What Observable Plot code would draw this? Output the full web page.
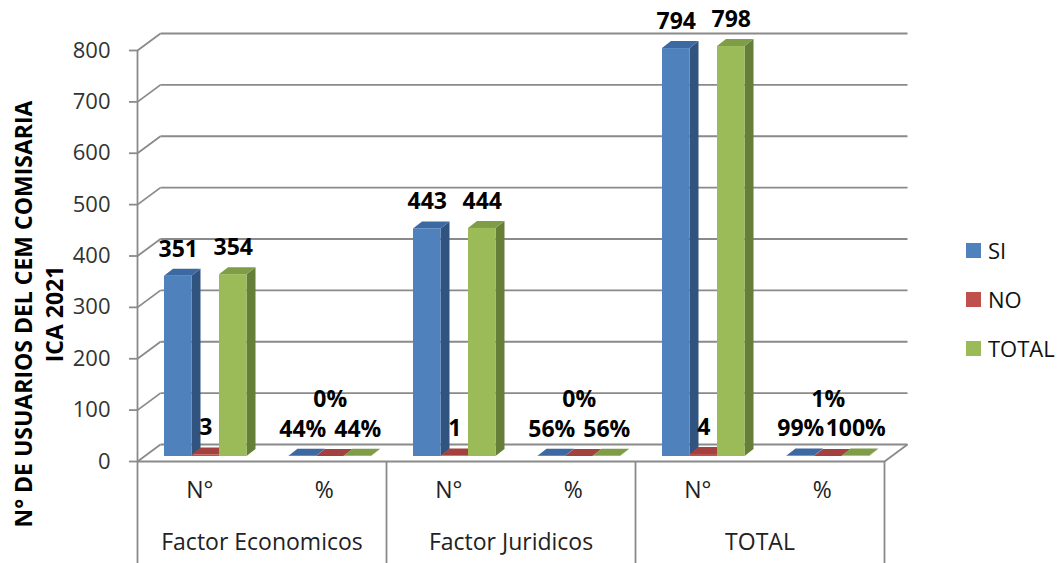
<!DOCTYPE html>
<html>
<head>
<meta charset="utf-8">
<script src="https://cdn.jsdelivr.net/npm/d3@7"></script>
<script src="https://cdn.jsdelivr.net/npm/@observablehq/plot@0.6"></script>
<style>
  html, body { margin: 0; padding: 0; background: #fff; }
  #wrap { position: relative; width: 1063px; height: 563px; font-family: "Open Sans", sans-serif; }
  #ytitle { position: absolute; left: 38.75px; top: 313.5px; width: 520px; height: 62px;
    transform: translate(-50%, -50%) rotate(-90deg); text-align: center; line-height: 31px;
    font-weight: bold; font-size: 23px; color: #000; white-space: nowrap; }
  #legend { position: absolute; left: 966px; top: 226px; font-size: 22px; color: #111; }
  #legend .item { display: flex; align-items: center; height: 49px; line-height: 29px; }
  #legend .sw { width: 15px; height: 15px; margin-right: 7px; }
</style>
</head>
<body>
<div id="wrap">
  <div id="chart"></div>
  <div id="ytitle"></div>
  <div id="legend"></div>
</div>
<script>
// ---- data ----
const groups = ["Factor Economicos", "Factor Juridicos", "TOTAL"];
const measures = ["N°", "%"];
const seriesNames = ["SI", "NO", "TOTAL"];
// values per category slot: [Econ N°, Econ %, Jur N°, Jur %, Total N°, Total %]
const siValues    = [351, 0.44, 443, 0.56, 794, 0.99];
const noValues    = [3,   0.00, 1,   0.00, 4,   0.01];
const totalValues = [354, 0.44, 444, 0.56, 798, 1.00];
const yTicks = [0, 100, 200, 300, 400, 500, 600, 700, 800];
const yTitle = ["N° DE USUARIOS DEL CEM COMISARIA", "ICA 2021"];

// ---- styling ----
const frontColors = ["#4F81BD", "#C0504D", "#9BBB59"];
const topColors   = ["#3D69A3", "#A3413E", "#7F9D47"];
const sideColors  = ["#30547F", "#8A3432", "#667F38"];
const W = 1063, H = 563, mL = 137, mR = 179, mT = 50, mB = 102;
const nSlots = groups.length * measures.length;
const pxX = (W - mL - mR) / nSlots;
const pxY = (H - mT - mB) / 800;
const wallDX = 23 / pxX, wallDY = 17 / pxY;      // back wall depth
const barDX = 9 / pxX, barDY = 7 / pxY;          // bar depth
const slot = 27.5 / pxX;                          // bar width
const shift = {dx: 6, dy: -5};                    // bar placement inside depth

const allValues = [siValues, noValues, totalValues];
const slots = groups.flatMap((g, gi) => measures.map((m, mi) => ({g, m, i: gi * measures.length + mi})));
const bars = [];
allValues.forEach((vals, s) => {
  slots.forEach(({m, i}) => {
    const v = vals[i];
    const x1 = i + 0.5 + (s - 1.5) * slot;
    bars.push({id: `${s}-${i}`, s, i, m, v, x1, x2: x1 + slot,
      label: m === "%" ? d3.format(".0%")(v) : String(v),
      raised: m === "%" && s === 1});
  });
});
const sideRows = bars.flatMap(b => [
  {id: b.id, s: b.s, x: b.x2, y1: 0, y2: b.v},
  {id: b.id, s: b.s, x: b.x2 + barDX, y1: barDY, y2: b.v + barDY}
]);
const topRows = bars.flatMap(b => [
  {id: b.id, s: b.s, x1: b.x1, x2: b.x2, y: b.v},
  {id: b.id, s: b.s, x1: b.x1 + barDX, x2: b.x2 + barDX, y: b.v + barDY}
]);

const grid = "#8a8a8a";
const marks = [
  // back wall gridlines
  Plot.link(yTicks, {x1: wallDX, x2: nSlots + wallDX, y1: d => d + wallDY, y2: d => d + wallDY, stroke: grid, strokeWidth: 1.8}),
  // left wall diagonals
  Plot.link(yTicks, {x1: 0, x2: wallDX, y1: d => d, y2: d => d + wallDY, stroke: grid, strokeWidth: 1.8}),
  // floor front edge and right edge
  Plot.link([0], {x1: 0, x2: nSlots, y1: 0, y2: 0, stroke: grid, strokeWidth: 1.8}),
  Plot.link([0], {x1: nSlots, x2: nSlots + wallDX, y1: 0, y2: wallDY, stroke: grid, strokeWidth: 1.8}),
  // y axis line
  Plot.ruleX([0], {y1: 0, y2: 800, stroke: grid, strokeWidth: 1.8}),
  // category separators
  Plot.ruleX(d3.range(0, nSlots + 1, measures.length), {y1: 0, y2: -mB / pxY, stroke: grid, strokeWidth: 1.8}),
  Plot.axisY({ticks: yTicks, tickSize: 8, tickPadding: 19, label: null, color: "#333", stroke: grid, strokeWidth: 1.8, fontSize: 22}),
  // category labels
  Plot.text(slots, {x: d => d.i + 0.5, text: "m", frameAnchor: "bottom", dy: 36, fill: "#222", fontSize: 23}),
  Plot.text(groups, {x: (d, gi) => gi * measures.length + measures.length / 2, text: d => d, frameAnchor: "bottom", dy: 88, fill: "#222", fontSize: 23}),
];
seriesNames.forEach((name, s) => {
  marks.push(Plot.area(sideRows.filter(r => r.s === s), {x1: "x", y1: "y1", y2: "y2", z: "id", fill: sideColors[s], ...shift}));
  marks.push(Plot.area(topRows.filter(r => r.s === s), {x1: "x1", x2: "x2", y1: "y", y2: "y", z: "id", fill: topColors[s], ...shift}));
});
seriesNames.forEach((name, s) => {
  marks.push(Plot.rect(bars.filter(b => b.s === s), {x1: "x1", x2: "x2", y1: 0, y2: "v", fill: frontColors[s], ...shift}));
});
marks.push(Plot.text(bars.filter(b => !b.raised), {x: b => (b.x1 + b.x2) / 2, y: "v", text: "label", dx: 6, dy: -32, fontWeight: "bold", fontSize: 23, fill: "#000"}));
marks.push(Plot.text(bars.filter(b => b.raised), {x: b => (b.x1 + b.x2) / 2, y: "v", text: "label", dx: 6, dy: -62, fontWeight: "bold", fontSize: 23, fill: "#000"}));

const chart = Plot.plot({
  width: W, height: H,
  marginLeft: mL, marginRight: mR, marginTop: mT, marginBottom: mB,
  x: {type: "linear", domain: [0, nSlots], axis: null},
  y: {domain: [0, 800], axis: null},
  style: {fontFamily: "'Open Sans', sans-serif", fontSize: "22px", color: "#333", background: "#fff", overflow: "visible"},
  marks
});
document.getElementById("chart").appendChild(chart);

document.getElementById("ytitle").innerHTML = yTitle.join("<br>");
const legend = document.getElementById("legend");
seriesNames.forEach((name, s) => {
  const it = document.createElement("div");
  it.className = "item";
  it.innerHTML = `<span class="sw" style="background:${frontColors[s]}"></span><span>${name}</span>`;
  legend.appendChild(it);
});
</script>
</body>
</html>
